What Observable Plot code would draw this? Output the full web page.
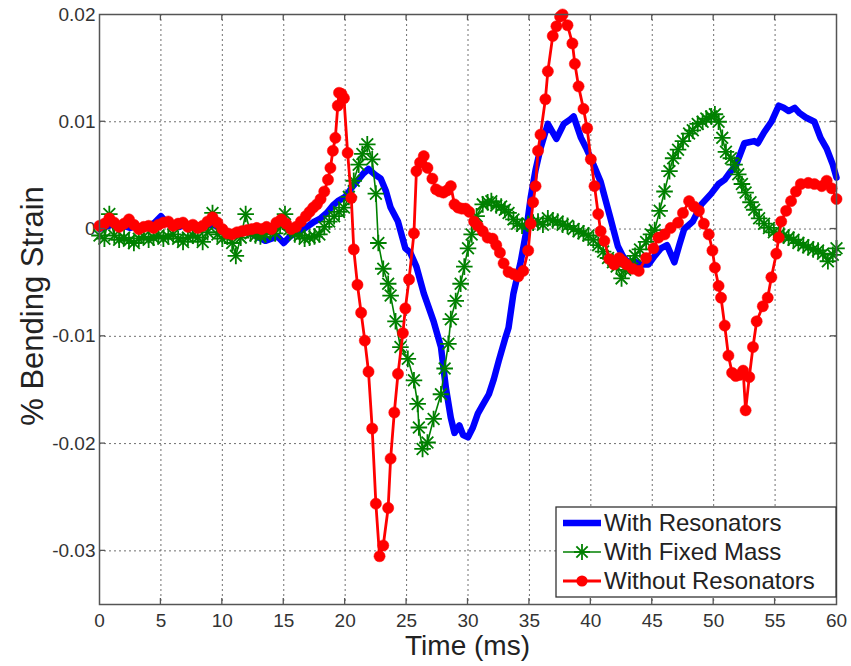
<!DOCTYPE html>
<html>
<head>
<meta charset="utf-8">
<script src="https://cdn.jsdelivr.net/npm/d3@7"></script>
<script src="https://cdn.jsdelivr.net/npm/@observablehq/plot@0.6"></script>
<style>
  html, body { margin: 0; padding: 0; background: #fff; }
  #chart { width: 851px; height: 666px; }
</style>
</head>
<body>
<div id="chart"></div>
<script>
// ---- axis ticks / labels ----
const xTicks = [0, 5, 10, 15, 20, 25, 30, 35, 40, 45, 50, 55, 60];
const yTicks = [-0.03, -0.02, -0.01, 0, 0.01, 0.02];
const yTickLabels = ["-0.03", "-0.02", "-0.01", "0", "0.01", "0.02"];
const xTitle = "Time (ms)";
const yTitle = "% Bending Strain";
const seriesNames = ["With Resonators", "With Fixed Mass", "Without Resonators"];

// ---- series: [time (ms), % bending strain] ----
const withResonators = [
  [0,0],[0.5,0.0002],[1,0.0004],[1.5,0.0002],[2,0.0003],[2.5,0.0001],[3,0.0003],[3.5,0.0002],[4,0.0003],[4.5,0.0006],
  [5,0.0012],[5.3,0.0008],[5.8,0.0003],[6.5,0.0002],[7,0.0004],[7.5,0.0002],[8,0],[8.5,0.0002],[9,0.0004],[9.5,0.0003],
  [10,0],[10.5,-0.0004],[11,-0.0003],[11.5,-0.0002],[12,-0.0003],[12.5,-0.0005],[13,-0.0008],[13.5,-0.0011],[14,-0.0009],[14.5,-0.0007],
  [15,-0.0013],[15.5,-0.0007],[16,-0.0003],[16.5,-0.0001],[17,0.0003],[17.5,0.0007],[18,0.001],[18.5,0.0015],[19,0.0022],[19.4,0.0026],
  [20,0.003],[20.5,0.0038],[21,0.0045],[21.5,0.0052],[21.9,0.0056],[22.4,0.0051],[22.9,0.0047],[23.3,0.0036],[23.7,0.002],[24.3,0.0007],
  [24.9,-0.0018],[25.3,-0.0022],[25.8,-0.0035],[26.4,-0.006],[27.2,-0.0086],[27.8,-0.011],[28.2,-0.0148],[28.6,-0.0176],[28.9,-0.019],[29.3,-0.0183],
  [29.6,-0.0192],[30,-0.0194],[30.4,-0.0185],[30.8,-0.0172],[31.2,-0.0164],[31.7,-0.0154],[32.1,-0.014],[32.5,-0.0123],[33,-0.0103],[33.3,-0.0092],
  [33.7,-0.006],[34.3,-0.003],[34.7,-0.0005],[35.1,0.0029],[35.5,0.0055],[35.9,0.0075],[36.5,0.0098],[37.2,0.0084],[37.8,0.0098],[38.3,0.0102],
  [38.6,0.0105],[39.2,0.0085],[39.6,0.0076],[40,0.0066],[40.8,0.0044],[41.6,0.001],[42.2,-0.0016],[42.6,-0.0025],[43,-0.0031],[43.5,-0.003],
  [44,-0.0033],[44.7,-0.0033],[45.2,-0.0025],[45.7,-0.0018],[46.2,-0.0015],[46.8,-0.0031],[47.2,-0.0015],[47.6,0],[48.3,0.0007],[49,0.0023],
  [49.8,0.0033],[50.4,0.0042],[50.9,0.0046],[51.4,0.0054],[51.8,0.0059],[52.5,0.008],[53.3,0.0082],[53.6,0.008],[54.1,0.009],[54.7,0.01],
  [55.3,0.0115],[55.7,0.0113],[56.1,0.011],[56.6,0.0113],[57,0.0108],[57.5,0.0104],[58.2,0.01],[58.7,0.0085],[59.2,0.0075],[59.7,0.006],
  [60,0.0048]
];

const withFixedMass = [
  [0,-0.0006],[0.4,-0.0009],[0.8,0.0014],[1.2,-0.0006],[1.6,-0.001],[2,-0.0008],[2.4,-0.0011],[2.8,-0.0013],[3.2,-0.0009],[3.6,-0.0007],
  [4,-0.001],[4.4,-0.0008],[4.8,-0.0006],[5.2,-0.0009],[5.6,-0.0007],[6,-0.0005],[6.4,-0.0009],[6.8,-0.0012],[7.2,-0.0008],[7.6,-0.0006],
  [8,-0.0008],[8.4,-0.0012],[8.8,-0.0003],[9.2,0.0015],[9.6,-0.0005],[10,-0.0009],[10.4,-0.0007],[10.8,-0.0013],[11.1,-0.0025],[11.5,-0.0008],
  [11.9,0.0014],[12.3,-0.0004],[12.7,-0.0006],[13.1,-0.0007],[13.5,-0.0005],[13.9,-0.0002],[14.3,-0.0004],[14.7,0.0003],[15.1,0.0014],[15.5,0],
  [15.9,-0.0005],[16.3,-0.0006],[16.7,-0.0009],[17.1,-0.0008],[17.5,-0.0007],[17.9,-0.0005],[18.3,0.0002],[18.7,0.0007],[19.1,0.0012],[19.5,0.0016],
  [19.9,0.002],[20.3,0.003],[20.7,0.0045],[21.1,0.006],[21.4,0.007],[21.8,0.0079],[22.2,0.0065],[22.5,0.0033],[22.7,-0.0013],[23.1,-0.0037],
  [23.5,-0.0051],[23.7,-0.0062],[24.1,-0.0086],[24.5,-0.011],[25.1,-0.0121],[25.6,-0.0141],[25.9,-0.0163],[26,-0.0185],[26.3,-0.0205],[26.7,-0.0199],
  [27.2,-0.0177],[27.8,-0.0154],[28.1,-0.013],[28.4,-0.0107],[28.6,-0.0084],[29,-0.0067],[29.4,-0.0051],[29.7,-0.0035],[30,-0.0018],[30.3,-0.0005],
  [30.7,0.0012],[31.2,0.0023],[31.6,0.0025],[31.9,0.0026],[32.3,0.0022],[32.7,0.0021],[33,0.0018],[33.3,0.0015],[33.7,0.0009],[34,0.0005],
  [34.4,0.0003],[34.9,0.0005],[35.3,0.0006],[35.7,0.0007],[36.1,0.0004],[36.5,0.001],[36.9,0.0008],[37.3,0.0007],[37.7,0.0004],[38.1,0.0003],
  [38.6,0],[39,-0.0002],[39.4,-0.0004],[39.8,-0.0006],[40.2,-0.001],[40.6,-0.0015],[41,-0.0021],[41.4,-0.0027],[41.8,-0.0031],[42.1,-0.0035],
  [42.5,-0.0046],[42.8,-0.0038],[43.2,-0.0032],[43.6,-0.0025],[44,-0.0019],[44.5,-0.0012],[44.9,-0.0005],[45.2,-0.0001],[45.6,0.0017],[46,0.0035],
  [46.4,0.0054],[46.7,0.0066],[47.1,0.0074],[47.5,0.0082],[48,0.0089],[48.3,0.0092],[48.7,0.0098],[49.1,0.01],[49.4,0.0103],[49.8,0.0105],
  [50.1,0.0107],[50.4,0.01],[50.7,0.0085],[51,0.0072],[51.4,0.0066],[51.7,0.006],[52,0.0051],[52.3,0.0042],[52.6,0.0034],[53,0.0025],
  [53.3,0.0018],[53.7,0.001],[54.1,0.0005],[54.5,0.0001],[54.9,-0.0003],[55.3,-0.0005],[55.7,-0.0006],[56.1,-0.0008],[56.5,-0.001],[56.9,-0.0013],
  [57.3,-0.0015],[57.7,-0.0017],[58.1,-0.0019],[58.5,-0.002],[58.9,-0.0023],[59.3,-0.003],[59.7,-0.0024],[60,-0.0018]
];

const withoutResonators = [
  [0,0.0003],[0.4,0.0005],[0.8,0.001],[1.2,0.0006],[1.6,0.0002],[2,0.0005],[2.4,0.0009],[2.8,0.0004],[3.2,0],[3.6,0.0002],
  [4,0.0003],[4.4,0.0001],[4.8,0.0004],[5.2,0.0006],[5.6,0.0007],[6,0.0003],[6.4,0.0005],[6.8,0.0006],[7.2,0.0002],[7.6,0.0004],
  [8,0.0001],[8.4,0.0003],[8.8,0.0007],[9.2,0.0011],[9.6,0.0006],[10,0],[10.4,-0.0004],[10.8,-0.0005],[11.2,-0.0003],[11.6,-0.0002],
  [12,-0.0001],[12.4,0],[12.8,0.0001],[13.2,0],[13.6,0.0002],[14,0],[14.4,0.0006],[14.8,0.0009],[15.2,0.0005],[15.6,0],
  [16,0.0002],[16.4,0.0007],[16.8,0.0012],[17.1,0.0016],[17.4,0.002],[17.7,0.0023],[18,0.0028],[18.3,0.0035],[18.6,0.0046],[18.8,0.0057],
  [19,0.0073],[19.2,0.0085],[19.4,0.0115],[19.5,0.0127],[19.7,0.0126],[19.9,0.0122],[20.2,0.0071],[20.5,0.0029],[20.7,-0.0019],[21,-0.0052],
  [21.3,-0.0078],[21.6,-0.0104],[21.9,-0.0133],[22.2,-0.0186],[22.5,-0.0256],[22.8,-0.0305],[23.1,-0.0295],[23.5,-0.026],[23.7,-0.0214],[24,-0.0171],
  [24.3,-0.0135],[24.7,-0.0097],[24.9,-0.0074],[25.2,-0.0047],[25.6,-0.0004],[25.8,0.0054],[26.1,0.0062],[26.4,0.0068],[26.7,0.0057],[27.1,0.0047],
  [27.4,0.0037],[27.7,0.0035],[28,0.0034],[28.3,0.0036],[28.6,0.004],[28.9,0.0023],[29.2,0.002],[29.5,0.0019],[29.8,0.0019],[30.1,0.0016],
  [30.5,0.0007],[30.8,0.0003],[31.2,-0.0002],[31.6,-0.0008],[32,-0.0009],[32.3,-0.0015],[32.6,-0.0022],[32.9,-0.0032],[33.3,-0.004],[33.7,-0.0042],
  [34.1,-0.0044],[34.5,-0.0039],[34.9,-0.002],[35.1,0.0005],[35.3,0.0025],[35.5,0.004],[35.7,0.0073],[35.9,0.0088],[36.3,0.0121],[36.5,0.0147],
  [36.9,0.018],[37.2,0.0189],[37.5,0.0198],[37.7,0.02],[38.1,0.019],[38.5,0.0173],[38.7,0.0154],[39,0.0133],[39.4,0.0112],[39.7,0.0094],
  [40,0.0065],[40.3,0.004],[40.6,0.0014],[40.8,-0.0002],[41.1,-0.0011],[41.5,-0.0028],[41.9,-0.0033],[42.3,-0.0027],[42.6,-0.003],[42.9,-0.0033],
  [43.4,-0.0037],[43.9,-0.0039],[44.5,-0.0027],[45.1,-0.0018],[45.5,-0.0008],[46,-0.0005],[46.5,0.0001],[47.1,0.0006],[47.5,0.0015],[48,0.0026],
  [48.4,0.0021],[48.8,0.0017],[49.2,0.0005],[49.6,-0.0005],[49.9,-0.002],[50.1,-0.0036],[50.4,-0.0053],[50.6,-0.0064],[50.9,-0.009],[51.2,-0.0118],
  [51.5,-0.0134],[51.8,-0.0137],[52.1,-0.0136],[52.4,-0.0132],[52.6,-0.0169],[52.9,-0.0138],[53.2,-0.011],[53.5,-0.0086],[54,-0.0072],[54.4,-0.0064],
  [54.7,-0.0045],[55.1,-0.0023],[55.3,-0.0008],[55.5,0.0007],[55.9,0.0017],[56.3,0.0026],[56.7,0.0035],[57.1,0.0042],[57.7,0.0043],[58.2,0.0042],
  [58.8,0.004],[59.2,0.0045],[59.6,0.0038],[60,0.0028]
];

const colors = ["#0000ff", "#008000", "#ff0000"];
const FONT = "'Liberation Sans', Arial, Helvetica, sans-serif";

const plot = Plot.plot({
  width: 851,
  height: 666,
  marginLeft: 99,
  marginRight: 15,
  marginTop: 14,
  marginBottom: 62,
  style: { fontFamily: FONT, fontSize: "19px", color: "#333", background: "#fff" },
  x: { domain: [0, 60], ticks: xTicks, tickSize: 0, tickPadding: 9, label: null, tickFormat: d => String(d) },
  y: { domain: [-0.035, 0.02], ticks: yTicks, tickSize: 0, tickPadding: 4, label: null,
       tickFormat: d => yTickLabels[yTicks.findIndex(t => Math.abs(t - d) < 1e-9)] },
  marks: [
    Plot.ruleX(xTicks.slice(1, -1), { stroke: "#707070", strokeWidth: 1, strokeDasharray: "2,3" }),
    Plot.ruleY(yTicks.filter(v => v < 0.015), { stroke: "#707070", strokeWidth: 1, strokeDasharray: "2,3" }),
    Plot.line(withResonators, { x: d => d[0], y: d => d[1], stroke: colors[0], strokeWidth: 6.5, strokeLinejoin: "round" }),
    Plot.line(withFixedMass, { x: d => d[0], y: d => d[1], stroke: colors[1], strokeWidth: 1.6 }),
    Plot.dot(withFixedMass, { x: d => d[0], y: d => d[1], symbol: "plus", r: 5.4, stroke: colors[1], strokeWidth: 1.8 }),
    Plot.dot(withFixedMass, { x: d => d[0], y: d => d[1], symbol: "times", r: 5.4, stroke: colors[1], strokeWidth: 1.8 }),
    Plot.line(withoutResonators, { x: d => d[0], y: d => d[1], stroke: colors[2], strokeWidth: 2.8 }),
    Plot.dot(withoutResonators, { x: d => d[0], y: d => d[1], r: 5.6, fill: colors[2], stroke: colors[2], strokeWidth: 0.5 }),
    Plot.frame({ stroke: "#555", strokeWidth: 1.5 })
  ]
});

document.getElementById("chart").appendChild(plot);

// ---- inward tick marks, titles, legend ----
const svg = d3.select(plot);
const sx = plot.scale("x"), sy = plot.scale("y");
const x0 = sx.apply(0), x1 = sx.apply(60), yTop = sy.apply(0.02), yBot = sy.apply(-0.035);
const tk = svg.append("g").attr("stroke", "#555").attr("stroke-width", 1.3);
xTicks.slice(1, -1).forEach(v => {
  const px = sx.apply(v);
  tk.append("line").attr("x1", px).attr("x2", px).attr("y1", yBot).attr("y2", yBot - 6);
  tk.append("line").attr("x1", px).attr("x2", px).attr("y1", yTop).attr("y2", yTop + 6);
});
yTicks.slice(0, -1).forEach(v => {
  const py = sy.apply(v);
  tk.append("line").attr("x1", x0).attr("x2", x0 + 6).attr("y1", py).attr("y2", py);
  tk.append("line").attr("x1", x1).attr("x2", x1 - 6).attr("y1", py).attr("y2", py);
});

svg.append("text")
  .attr("x", (x0 + x1) / 2).attr("y", 655)
  .attr("text-anchor", "middle").attr("font-family", FONT).attr("font-size", 28).attr("fill", "#222")
  .text(xTitle);
svg.append("text")
  .attr("transform", `translate(43, ${(yTop + yBot) / 2 - 3}) rotate(-90)`)
  .attr("text-anchor", "middle").attr("font-family", FONT).attr("font-size", 31).attr("fill", "#222")
  .text(yTitle);

const lg = svg.append("g");
lg.append("rect").attr("x", 556).attr("y", 507).attr("width", 280).attr("height", 90)
  .attr("fill", "#fff").attr("stroke", "#333").attr("stroke-width", 1.3);
const rowY = [523, 552, 581];
seriesNames.forEach((name, i) => {
  const y = rowY[i];
  lg.append("line").attr("x1", 563).attr("x2", 601).attr("y1", y).attr("y2", y)
    .attr("stroke", colors[i]).attr("stroke-width", i === 0 ? 6.5 : (i === 1 ? 1.6 : 2.8));
  if (i === 1) {
    const r = 8;
    const g = lg.append("g").attr("stroke", colors[1]).attr("stroke-width", 1.8);
    g.append("line").attr("x1", 582 - r).attr("x2", 582 + r).attr("y1", y).attr("y2", y);
    g.append("line").attr("x1", 582).attr("x2", 582).attr("y1", y - r).attr("y2", y + r);
    const d = r * 0.707;
    g.append("line").attr("x1", 582 - d).attr("x2", 582 + d).attr("y1", y - d).attr("y2", y + d);
    g.append("line").attr("x1", 582 - d).attr("x2", 582 + d).attr("y1", y + d).attr("y2", y - d);
  }
  if (i === 2) {
    lg.append("circle").attr("cx", 582).attr("cy", y).attr("r", 5.6).attr("fill", colors[2]);
  }
  lg.append("text").attr("x", 604).attr("y", y + 8)
    .attr("text-anchor", "start")
    .attr("font-family", FONT).attr("font-size", 24).attr("fill", "#222")
    .text(name);
});
</script>
</body>
</html>
